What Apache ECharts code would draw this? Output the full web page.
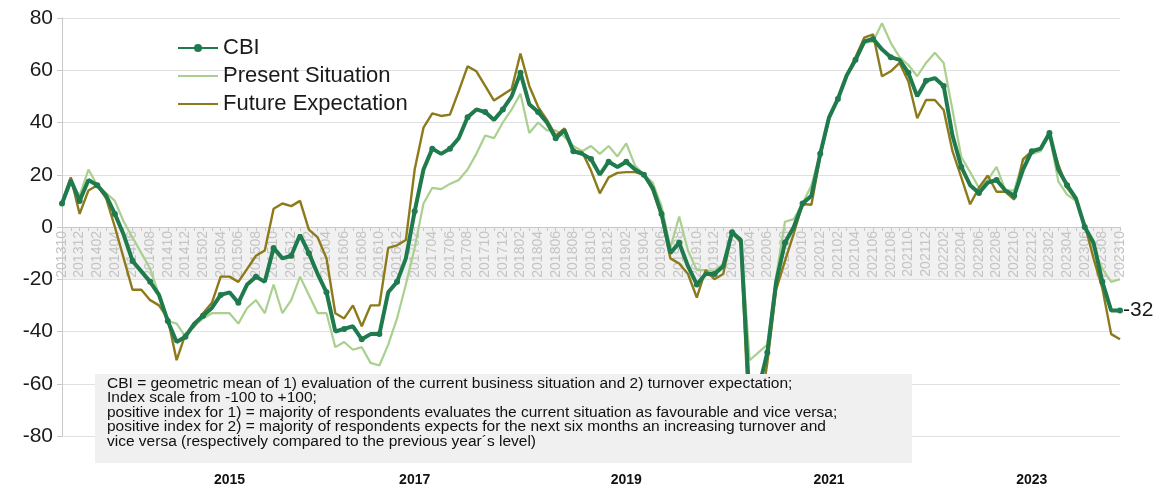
<!DOCTYPE html>
<html lang="en">
<head>
    <meta charset="UTF-8">
    <title>CBI</title>
    <script src="https://cdn.jsdelivr.net/npm/echarts@6/dist/echarts.min.js"></script>
    <style>
        html, body { margin: 0; padding: 0; background: #fff; }
        #main { width: 1158px; height: 488px; }
    </style>
</head>
<body>
    <div id="main"></div>
    <script type="text/javascript">
        // monthly categories 201310 .. 202310
        const months = [];
        for (let y = 2013; y <= 2023; y++) {
            for (let m = 1; m <= 12; m++) {
                if (y === 2013 && m < 10) continue;
                if (y === 2023 && m > 10) continue;
                months.push(y + String(m).padStart(2, '0'));
            }
        }

        // year captions under the chart and the month they sit on
        const yearLabels = ['2015', '2017', '2019', '2021', '2023'];
        const yearMonths = ['201505', '201702', '201902', '202101', '202212'];

        const cbi = [
            9, 18, 10,
            18, 16, 12, 5, -3, -13, -17, -21, -26, -36, -44, -42,
            -37, -34, -31, -26, -25, -29, -22, -19, -21, -8, -12, -11,
            -3, -10, -18, -25, -40, -39, -38, -43, -41, -41, -25, -21,
            -12, 6, 22, 30, 28, 30, 34, 42, 45, 44, 41, 45,
            50, 59, 47, 44, 40, 34, 37, 29, 28, 26, 20, 25,
            23, 25, 22, 20, 15, 5, -10, -6, -15, -22, -18, -18,
            -15, -2, -5, -68, -62, -48, -21, -6, 0, 9, 12, 28,
            42, 49, 58, 64, 71, 72, 68, 65, 64, 59, 50, 56,
            57, 54, 35, 23, 16, 13, 17, 18, 14, 12, 22, 29,
            30, 36, 22, 16, 11, 0, -6, -21, -32, -32
        ];
        const present = [
            8, 17, 12,
            22, 16, 13, 10, 2, -4, -10, -16, -26, -36, -37, -42,
            -38, -35, -33, -33, -33, -37, -31, -28, -33, -22, -33, -28,
            -19, -26, -33, -33, -46, -44, -47, -46, -52, -53, -45, -35,
            -22, -8, 9, 15, 14.5, 16.5, 18, 22, 28, 35, 34, 40,
            45, 51, 36, 40, 37, 37, 34.5, 31, 29, 31, 28, 31,
            27, 32, 23.5, 20, 17, 8, -8, 4, -9, -16.5, -16.5, -17,
            -14, -2.5, -4.5, -51, -48, -45, -19, 2, 3, 9, 16, 28,
            41, 48.6, 57.7, 63.4, 70.5, 71, 78, 70.5, 65, 62, 57.7, 62.8,
            66.7, 62.8, 44.8, 26.8, 21, 15, 18, 23, 14, 14, 25.5, 28,
            29, 35.5, 17.5, 12.4, 10, 0, -8, -16, -21, -20
        ];
        const future = [
            9, 19, 5,
            14, 16, 11, 0, -12, -24, -24, -28, -30, -35, -51, -41,
            -38, -33, -29, -19, -19, -21, -16, -11, -9, 7, 9, 8,
            10, -1, -4, -12, -33, -35, -30, -38, -30, -30, -8, -7,
            -5, 22, 38, 43.5, 42.5, 43, 52, 61.5, 59.6, 54, 48.4, 50.6,
            52.8, 66.4, 54, 46, 41, 35, 37.7, 29, 28.7, 21.6, 12.9, 19,
            20.7, 21, 21, 20, 14, 4, -12, -14, -18, -27, -16.5, -20,
            -18, -2, -6, -82, -74, -52, -24, -13, -2.5, 8.8, 8.5, 27,
            42, 49, 58, 65, 72.5, 73.7, 57.7, 59.6, 62.8, 55.7, 41.6, 48.6,
            48.6, 44.8, 29, 19, 8.7, 15, 19.7, 13.5, 13.5, 10.5, 26, 29,
            30, 35, 24, 15, 10.5, 1, -12, -23.5, -41, -43
        ];

        const note = [
            'CBI = geometric mean of 1) evaluation of the current business situation and 2) turnover expectation;',
            'Index scale from -100 to +100;',
            'positive index for 1) = majority of respondents evaluates the current situation as favourable and vice versa;',
            'positive index for 2) = majority of respondents expects for the next six months an increasing turnover and',
            'vice versa (respectively compared to the previous year\u00b4s level)'
        ];

        const font = 'Liberation Sans, Arial, sans-serif';
        // light band behind the month labels (-20 .. 0)
        const bandColors = ['rgba(0,0,0,0)', 'rgba(0,0,0,0)', 'rgba(0,0,0,0)', '#f1f1f1',
            'rgba(0,0,0,0)', 'rgba(0,0,0,0)', 'rgba(0,0,0,0)', 'rgba(0,0,0,0)'];

        let myChart = echarts.init(document.getElementById('main'));

        let options = {
            animation: false,
            backgroundColor: '#fff',
            textStyle: { fontFamily: font },
            grid: [
                { left: 62, right: 38, top: 18, bottom: 52, containLabel: false, outerBoundsMode: 'none' },
                { left: 62, right: 38, bottom: 51, height: 1, containLabel: false, outerBoundsMode: 'none' }
            ],
            legend: {
                data: [
                    { name: 'CBI' },
                    { name: 'Present Situation', itemStyle: { opacity: 0 } },
                    { name: 'Future Expectation', itemStyle: { opacity: 0 } }
                ],
                orient: 'vertical',
                left: 172,
                top: 32,
                itemWidth: 40,
                itemHeight: 10,
                itemGap: 6,
                textStyle: { fontSize: 22, color: '#1a1a1a', fontFamily: font }
            },
            xAxis: [{
                type: 'category',
                gridIndex: 0,
                data: months,
                boundaryGap: false,
                position: 'bottom',
                offset: -209,   // sits on the zero line of the value axis
                z: 1,
                axisLine: { onZero: false, lineStyle: { color: '#c8c8c8', width: 1 } },
                axisTick: { show: true, interval: 0, length: 4, lineStyle: { color: '#c8c8c8' } },
                axisLabel: {
                    interval: 1, rotate: 90, margin: 4,
                    fontSize: 14, color: '#c4c4c4', fontFamily: font
                },
                splitLine: { show: false }
            }, {
                type: 'category',
                gridIndex: 1,
                data: months,
                boundaryGap: false,
                position: 'bottom',
                axisLine: { show: false, onZero: false },
                axisTick: { show: false },
                splitLine: { show: false },
                axisLabel: {
                    margin: 36,
                    fontSize: 14, fontWeight: 'bold', color: '#111', fontFamily: font,
                    interval: (idx, value) => yearMonths.includes(value),
                    formatter: (value) => yearLabels[yearMonths.indexOf(value)]
                }
            }],
            yAxis: [{
                type: 'value',
                gridIndex: 0,
                min: -80, max: 80, interval: 20,
                z: 0,
                axisLine: { show: true, lineStyle: { color: '#c8c8c8' } },
                axisTick: { show: true, length: 5, lineStyle: { color: '#c8c8c8' } },
                axisLabel: { fontSize: 21, color: '#1a1a1a', margin: 9, fontFamily: font },
                splitLine: { show: true, lineStyle: { color: '#e0e0e0', width: 1 } },
                splitArea: { show: true, areaStyle: { color: bandColors } }
            }, {
                type: 'value',
                gridIndex: 1,
                show: false
            }],
            series: [{
                name: 'Present Situation',
                type: 'line',
                data: present,
                symbol: 'none',
                lineStyle: { color: '#a9d08e', width: 2.2 },
                itemStyle: { color: '#a9d08e' },
                z: 3
            }, {
                name: 'Future Expectation',
                type: 'line',
                data: future,
                symbol: 'none',
                lineStyle: { color: '#8c7a1b', width: 2.4 },
                itemStyle: { color: '#8c7a1b' },
                z: 4
            }, {
                name: 'CBI',
                type: 'line',
                data: cbi,
                symbol: 'circle',
                symbolSize: 6,
                lineStyle: { color: '#1f7a4d', width: 4 },
                itemStyle: { color: '#1f7a4d' },
                z: 5,
                endLabel: {
                    show: true,
                    formatter: (p) => p.value,
                    fontSize: 21, color: '#1a1a1a', distance: 3, fontFamily: font
                }
            }],
            graphic: [{
                type: 'group',
                left: 95,
                top: 374,
                z: 100,
                children: [{
                    type: 'rect',
                    z: 100,
                    shape: { x: 0, y: 0, width: 817, height: 89 },
                    style: { fill: '#f0f0f0' }
                }, {
                    type: 'text',
                    z: 101,
                    x: 12,
                    y: 2,
                    style: {
                        text: note.join('\n'),
                        font: '15.5px ' + font,
                        lineHeight: 14.5,
                        fill: '#111'
                    }
                }]
            }]
        };

        myChart.setOption(options);
    </script>
</body>
</html>
